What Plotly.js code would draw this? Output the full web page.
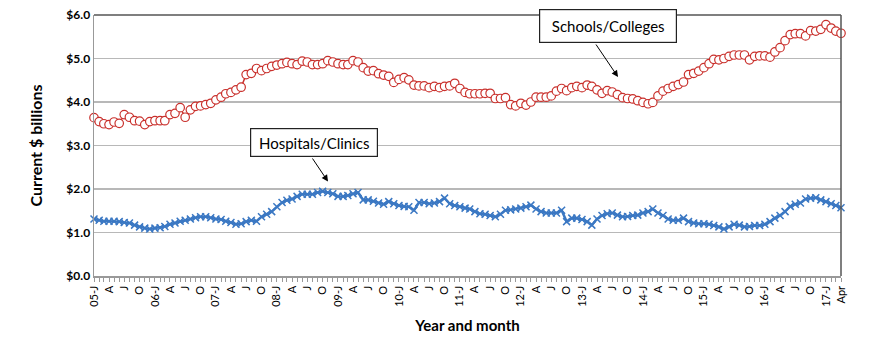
<!DOCTYPE html>
<html>
<head>
<meta charset="utf-8">
<script src="https://cdn.plot.ly/plotly-3.0.1.min.js"></script>
<style>
html,body{margin:0;padding:0;background:#fff;}
#chart{width:870px;height:351px;}
</style>
</head>
<body>
<div id="chart"></div>
<script>
// Monthly categories: Jan 2005 .. Apr 2017
const startYear = 2005, nMonths = 148;
const months = [];
for (let i = 0; i < nMonths; i++) {
  const y = startYear + Math.floor(i / 12), m = (i % 12) + 1;
  months.push(y + '-' + String(m).padStart(2, '0') + '-01');
}

// Tick labels every 3 months
const tickLabels = [];
const tickDates = [];
const qLetters = ['J', 'A', 'J', 'O'];
for (let i = 0; i < nMonths; i += 3) {
  const y = startYear + Math.floor(i / 12);
  const q = (i % 12) / 3;
  tickDates.push(months[i]);
  if (i === nMonths - 1) tickLabels.push('Apr');
  else if (q === 0) tickLabels.push(String(y % 100).padStart(2, '0') + '-J');
  else tickLabels.push(qLetters[q]);
}

// Current $ billions
const schools = [
  3.64,3.55,3.50,3.48,3.54,3.51,3.71,3.65,3.57,3.56,3.48,3.55,
  3.57,3.57,3.57,3.71,3.74,3.87,3.65,3.82,3.90,3.91,3.94,3.97,
  4.05,4.11,4.19,4.22,4.28,4.34,4.63,4.66,4.77,4.72,4.77,4.82,
  4.85,4.88,4.91,4.88,4.86,4.94,4.92,4.86,4.86,4.88,4.95,4.92,
  4.88,4.86,4.86,4.95,4.92,4.79,4.71,4.72,4.65,4.62,4.59,4.45,
  4.52,4.56,4.51,4.39,4.37,4.37,4.33,4.36,4.33,4.36,4.37,4.43,
  4.31,4.22,4.19,4.19,4.19,4.20,4.20,4.08,4.08,4.10,3.94,3.91,
  3.97,3.93,4.00,4.11,4.11,4.11,4.14,4.25,4.31,4.26,4.33,4.36,
  4.33,4.39,4.36,4.28,4.20,4.26,4.23,4.17,4.10,4.08,4.07,4.03,
  3.99,3.96,3.99,4.14,4.25,4.31,4.36,4.40,4.46,4.63,4.66,4.71,
  4.79,4.88,4.98,4.97,5.00,5.05,5.08,5.08,5.08,4.97,5.05,5.06,
  5.06,5.03,5.15,5.25,5.41,5.55,5.57,5.57,5.52,5.64,5.63,5.67,
  5.78,5.70,5.63,5.58
];
const hospitals = [
  1.31,1.28,1.26,1.26,1.26,1.25,1.23,1.22,1.17,1.13,1.10,1.08,
  1.10,1.11,1.14,1.19,1.22,1.26,1.28,1.31,1.34,1.36,1.36,1.34,
  1.31,1.30,1.26,1.23,1.19,1.20,1.25,1.28,1.26,1.36,1.42,1.48,
  1.59,1.69,1.74,1.77,1.83,1.88,1.88,1.88,1.92,1.95,1.92,1.89,
  1.83,1.83,1.85,1.89,1.92,1.75,1.75,1.72,1.68,1.65,1.71,1.66,
  1.62,1.60,1.59,1.51,1.69,1.69,1.66,1.68,1.71,1.79,1.66,1.62,
  1.59,1.56,1.54,1.48,1.43,1.42,1.39,1.36,1.42,1.51,1.52,1.54,
  1.56,1.59,1.63,1.54,1.48,1.45,1.45,1.45,1.51,1.25,1.33,1.33,
  1.30,1.25,1.17,1.31,1.39,1.43,1.45,1.40,1.36,1.37,1.39,1.40,
  1.45,1.48,1.54,1.45,1.39,1.31,1.28,1.28,1.33,1.25,1.22,1.20,
  1.20,1.19,1.16,1.13,1.08,1.13,1.19,1.17,1.13,1.14,1.16,1.16,
  1.19,1.25,1.33,1.39,1.48,1.60,1.65,1.68,1.77,1.79,1.80,1.75,
  1.71,1.66,1.62,1.57
];

const yTickVals = [0, 1, 2, 3, 4, 5, 6];
const seriesNames = ['Schools/Colleges', 'Hospitals/Clinics'];

const FONT = 'Lato, "Open Sans", sans-serif';

const traces = [
  {
    x: months, y: schools, name: seriesNames[0], type: 'scatter', mode: 'lines+markers',
    line: {color: '#c9302c', width: 1.5},
    marker: {symbol: 'circle', size: 8.5, color: '#ffffff', line: {color: '#c9302c', width: 1.2}},
    cliponaxis: false
  },
  {
    x: months, y: hospitals, name: seriesNames[1], type: 'scatter', mode: 'lines+markers',
    line: {color: '#3b78c3', width: 2.5},
    marker: {symbol: 'x-thin-open', size: 7, color: '#3b78c3', line: {color: '#3b78c3', width: 1.5}},
    cliponaxis: false
  }
];

const layout = {
  width: 870, height: 351,
  margin: {l: 94, r: 29, t: 15, b: 75},
  paper_bgcolor: '#ffffff', plot_bgcolor: '#ffffff',
  showlegend: false,
  font: {family: FONT, color: '#000'},
  xaxis: {
    type: 'date',
    range: [months[0], months[nMonths - 1]],
    tickvals: tickDates, ticktext: tickLabels,
    tickangle: -90,
    tickfont: {family: FONT, size: 11, color: '#000'},
    ticks: 'outside', ticklen: 4, tickcolor: '#999', tickwidth: 1,
    minor: {ticks: 'outside', ticklen: 4, tickcolor: '#999', dtick: 'M1', tick0: months[0], showgrid: false},
    showgrid: false, zeroline: false,
    showline: true, linecolor: '#999', linewidth: 1.5,
    mirror: false,
    title: {text: 'Year and month', font: {family: FONT, size: 15, color: '#000', weight: 'bold'}, standoff: 14}
  },
  yaxis: {
    range: [0, 6],
    tickvals: yTickVals,
    tickformat: '$.1f',
    tickfont: {family: FONT, size: 12, color: '#000', weight: 'bold'},
    ticks: '', showgrid: true, gridcolor: '#b8b8b8', gridwidth: 1.5,
    zeroline: false,
    showline: true, linecolor: '#999', linewidth: 1.5,
    title: {text: 'Current $ billions', font: {family: FONT, size: 16, color: '#000', weight: 'bold'}, standoff: 20}
  },
  shapes: [
    {type: 'line', xref: 'paper', yref: 'paper', x0: 0, x1: 1, y0: 1, y1: 1, line: {color: '#555', width: 1.5}},
    {type: 'line', xref: 'paper', yref: 'paper', x0: 1, x1: 1, y0: 0, y1: 1, line: {color: '#555', width: 1.5}}
  ],
  annotations: [
    {
      text: seriesNames[0], xref: 'paper', yref: 'paper',
      x: (608 - 94) / 747, y: (276 - 25.5) / 261, xanchor: 'center', yanchor: 'middle',
      showarrow: false, font: {family: FONT, size: 15, color: '#000'},
      bgcolor: '#ffffff', bordercolor: '#222', borderwidth: 1.2, borderpad: 0,
      width: 136, height: 32
    },
    {
      text: '', xref: 'paper', yref: 'paper', axref: 'pixel', ayref: 'pixel',
      x: (618 - 94) / 747, y: (276 - 77) / 261, ax: 595 - 618, ay: 43 - 77,
      showarrow: true, arrowhead: 2, arrowsize: 1.3, arrowwidth: 1, arrowcolor: '#000', standoff: 0
    },
    {
      text: seriesNames[1], xref: 'paper', yref: 'paper',
      x: (313.5 - 94) / 747, y: (276 - 142) / 261, xanchor: 'center', yanchor: 'middle',
      showarrow: false, font: {family: FONT, size: 15, color: '#000'},
      bgcolor: '#ffffff', bordercolor: '#222', borderwidth: 1.2, borderpad: 0,
      width: 126, height: 27
    },
    {
      text: '', xref: 'paper', yref: 'paper', axref: 'pixel', ayref: 'pixel',
      x: (328 - 94) / 747, y: (276 - 181.5) / 261, ax: 311.5 - 328, ay: 157 - 181.5,
      showarrow: true, arrowhead: 2, arrowsize: 1.3, arrowwidth: 1, arrowcolor: '#000', standoff: 0
    }
  ]
};

Plotly.newPlot('chart', traces, layout, {displayModeBar: false, staticPlot: true});
</script>
</body>
</html>
